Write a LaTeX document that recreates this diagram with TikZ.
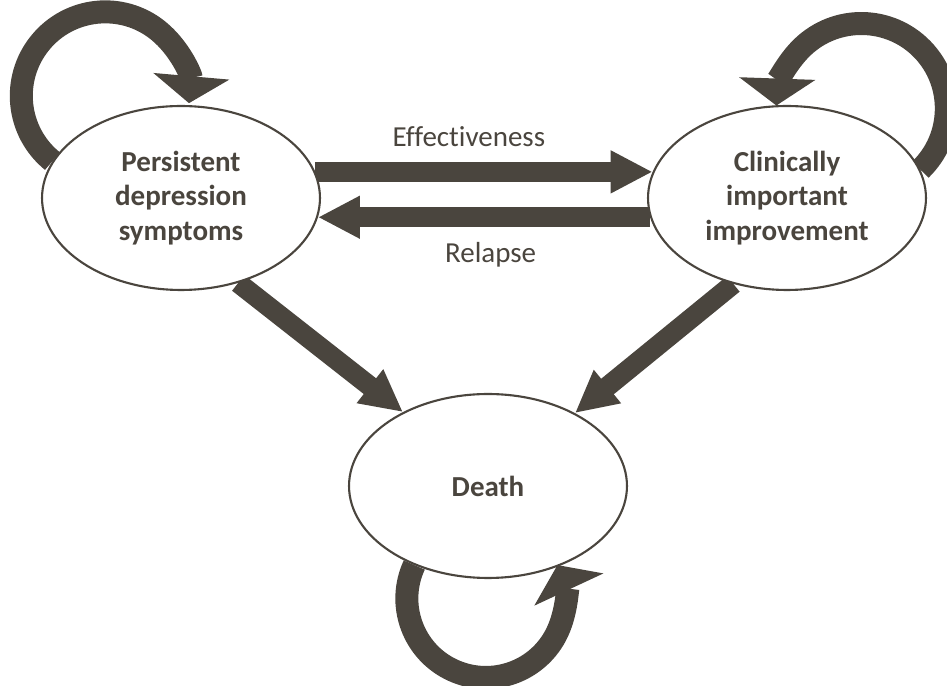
\documentclass[tikz,border=0pt]{standalone}
\usepackage{fontspec}
\setmainfont{Carlito}[Ligatures=NoCommon]
\usetikzlibrary{positioning,arrows.meta,backgrounds,shapes.geometric}
\definecolor{mkDark}{RGB}{74,69,62}
\tikzset{
    base/.style={font=\fontsize{16.5}{19.5}\selectfont, align=center, text=mkDark},
    state/.style={base, ellipse, draw=mkDark, line width=1.2pt, fill=white,
                  font=\fontsize{16.5}{19.5}\selectfont\bfseries,
                  minimum width=5.56cm, minimum height=3.68cm, inner sep=0pt},
    flow/.style={draw=mkDark, line width=0.4cm, -{Triangle[length=0.84cm, width=0.8cm]}},
    loopflow/.style={draw=mkDark, line width=0.46cm, -{Triangle[length=0.54cm, width=1.5cm]}},
    edgelabel/.style={base}
}

\begin{document}
\begin{tikzpicture}[x=0.02cm, y=0.02cm]
  \useasboundingbox (0,0) rectangle (947,686);

  % States
  \node[state] (ps) at (181,488) {Persistent\\depression\\symptoms};
  \node[state] (ci) at (787,488) {Clinically\\important\\improvement};
  \node[state] (de) at (488,200) {Death};

  % Transitions, kept behind the states
  \begin{scope}[on background layer]
    \draw[flow] (ps.11) -- node[edgelabel, pos=0.455, above=0.19cm] {Effectiveness} (ci.169);
    \draw[flow] (ci.188) -- node[edgelabel, pos=0.48, below=0.19cm] {Relapse} (ps.352);
    \draw[flow] (ps.304) -- (de.139);
    \draw[flow] (ci.238) -- (de.40);

    % Staying in the same state
    \draw[loopflow] (ps.164) arc[start angle=231, end angle=-5, radius=84];
    \draw[loopflow] (ci.12) arc[start angle=-46, end angle=178, radius=85];
    \draw[loopflow] (de.227) arc[start angle=155, end angle=385, radius=79];
  \end{scope}
\end{tikzpicture}
\end{document}
